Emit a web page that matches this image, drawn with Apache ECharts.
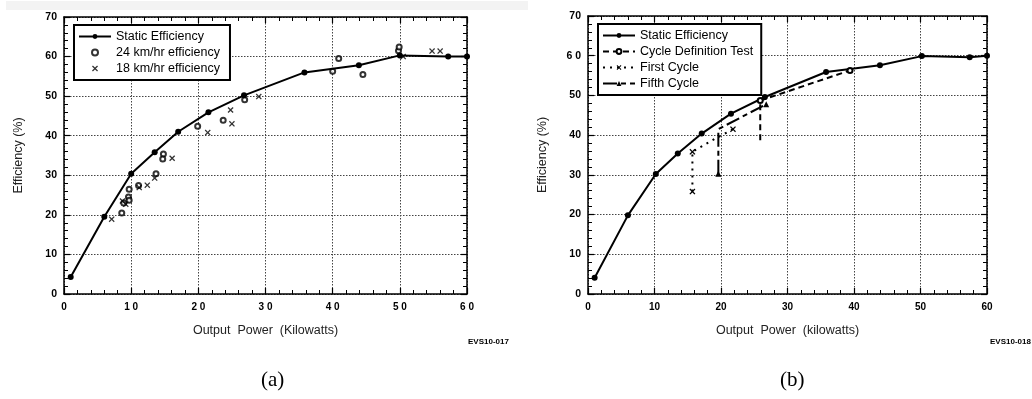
<!DOCTYPE html>
<html><head><meta charset="utf-8">
<script src="https://cdn.jsdelivr.net/npm/echarts@6/dist/echarts.min.js"></script>
<style>html,body{margin:0;padding:0;background:#fff}#c{width:1032px;height:399px}</style>
</head><body><div id="c"></div>
<script>
// ---- data: panel (a) ----
const aStatic = [[1,4.3],[6,19.5],[10,30.4],[13.5,35.8],[17,41],[21.5,45.9],[26.8,50.2],[35.8,56],[43.9,57.8],[50,60.3],[57.2,60],[60,60]];
const a24 = [[8.6,20.5],[8.9,23],[9.6,24.5],[9.7,23.7],[9.7,26.5],[11.1,27.4],[13.7,30.4],[14.8,35.4],[14.7,34.1],[19.9,42.4],[23.7,43.9],[26.9,49.1],[40,56.3],[40.9,59.5],[44.5,55.5],[49.8,61.5],[49.9,62.4]];
const a18 = [[7.1,18.9],[8.7,23.5],[9.2,22.7],[11.2,26.9],[12.4,27.5],[13.5,29.3],[16.1,34.3],[21.4,40.8],[24.8,46.5],[25,43],[29,49.9],[50.5,60],[54.8,61.4],[56,61.4]];
// ---- data: panel (b) ----
const bStatic = [[1,4.1],[6,19.8],[10.2,30.2],[13.5,35.4],[17.1,40.4],[21.5,45.4],[26.6,49.6],[35.8,55.9],[43.9,57.6],[50.2,59.9],[57.4,59.6],[60,60]];
const bCycleDef = [[25.9,38.7],[25.9,48.7],[39.4,56.3]];
const bFirst = [[15.7,25.8],[15.7,35.8],[19,39],[21.8,41.5]];
const bFifth = [[19.6,30.3],[19.6,41.5],[20.5,42.3],[26.8,47.8]];
// ---- labels ----
const aXLabels = ['0','1 0','2 0','3 0','4 0','5 0','6 0'];
const bXLabels = ['0','10','20','30','40','50','60'];
const aYLabels = ['0','10','20','30','40','50','60','70'];
const bYLabels = ['0','10','20','30','40','50','6 0','70'];
const namesA = ['Static Efficiency','24 km/hr efficiency','18 km/hr efficiency'];
const namesB = ['Static Efficiency','Cycle Definition Test','First Cycle','Fifth Cycle'];

const XSYM = 'path://M0,1.5 L1.5,0 L5,3.5 L8.5,0 L10,1.5 L6.5,5 L10,8.5 L8.5,10 L5,6.5 L1.5,10 L0,8.5 L3.5,5 Z';
const FONT = 'Liberation Sans, Arial, sans-serif';

function xAxes(grid, labels, title){
  return [{
    type:'value', gridIndex:grid, min:0, max:60, interval:10, position:'bottom',
    axisLine:{show:true,onZero:false,lineStyle:{color:'#000',width:1.5}},
    axisTick:{show:true,inside:true,length:6,lineStyle:{color:'#000',width:1.2}},
    minorTick:{show:true,splitNumber:5,length:4,lineStyle:{color:'#000',width:1}},
    splitLine:{show:true,lineStyle:{color:'#444',type:[1.5,1.5],width:1}},
    axisLabel:{color:'#000',fontFamily:FONT,fontSize:10,fontWeight:'bold',margin:8,formatter:v=>labels[Math.round(v/10)]},
    name:title, nameLocation:'middle', nameGap:30,
    nameTextStyle:{color:'#222',fontFamily:FONT,fontSize:12.5}
  },{
    type:'value', gridIndex:grid, min:0, max:60, interval:10, position:'top',
    axisLine:{show:true,onZero:false,lineStyle:{color:'#000',width:1.5}},
    axisTick:{show:true,inside:true,length:6,lineStyle:{color:'#000',width:1.2}},
    minorTick:{show:true,splitNumber:5,length:4,lineStyle:{color:'#000',width:1}},
    splitLine:{show:false}, axisLabel:{show:false}
  }];
}
function yAxes(grid, labels){
  return [{
    type:'value', gridIndex:grid, min:0, max:70, interval:10, position:'left',
    axisLine:{show:true,onZero:false,lineStyle:{color:'#000',width:1.5}},
    axisTick:{show:true,inside:true,length:6,lineStyle:{color:'#000',width:1.2}},
    minorTick:{show:true,splitNumber:5,length:4,lineStyle:{color:'#000',width:1}},
    splitLine:{show:true,lineStyle:{color:'#444',type:[1.5,1.5],width:1}},
    axisLabel:{color:'#000',fontFamily:FONT,fontSize:10.5,fontWeight:'bold',margin:7,formatter:v=>labels[Math.round(v/10)]},
    name:'Efficiency (%)', nameLocation:'middle', nameGap:39, nameRotate:90,
    nameTextStyle:{color:'#222',fontFamily:FONT,fontSize:12.5}
  },{
    type:'value', gridIndex:grid, min:0, max:70, interval:10, position:'right',
    axisLine:{show:true,onZero:false,lineStyle:{color:'#000',width:1.5}},
    axisTick:{show:true,inside:true,length:6,lineStyle:{color:'#000',width:1.2}},
    minorTick:{show:true,splitNumber:5,length:4,lineStyle:{color:'#000',width:1}},
    splitLine:{show:false}, axisLabel:{show:false}
  }];
}
function marked(arr, idxs){
  return arr.map((p,i)=> idxs.includes(i) ? {value:p} : {value:p, symbol:'none'});
}
const legendBase = {
  orient:'vertical', backgroundColor:'#fff', borderColor:'#000', borderWidth:2,
  itemWidth:32, itemHeight:6, itemGap:3, align:'left',
  textStyle:{color:'#000',fontFamily:FONT,fontSize:12.5,lineHeight:12}
};

const option = {
  animation:false, backgroundColor:'#fff',
  grid:[{left:64,top:17,width:403,height:277},{left:588,top:16,width:399,height:278}],
  xAxis:[...xAxes(0,aXLabels,'Output  Power  (Kilowatts)'), ...xAxes(1,bXLabels,'Output  Power  (kilowatts)')],
  yAxis:[...yAxes(0,aYLabels), ...yAxes(1,bYLabels)],
  legend:[
    Object.assign({}, legendBase, {data:namesA, left:74, top:25, padding:[5,10,5,4]}),
    Object.assign({}, legendBase, {data:namesB, left:598, top:24, padding:[5,8,5,4]})
  ],
  series:[
    {name:namesA[0], type:'line', xAxisIndex:0, yAxisIndex:0, data:aStatic, symbol:'circle', symbolSize:6,
     lineStyle:{color:'#000',width:2}, itemStyle:{color:'#000'}, z:3},
    {name:namesA[1], type:'scatter', xAxisIndex:0, yAxisIndex:0, data:a24, symbol:'emptyCircle', symbolSize:5,
     itemStyle:{color:'#000',borderWidth:1.2}},
    {name:namesA[2], type:'scatter', xAxisIndex:0, yAxisIndex:0, data:a18, symbol:XSYM, symbolSize:6,
     itemStyle:{color:'#000'}},
    {name:namesB[0], type:'line', xAxisIndex:2, yAxisIndex:2, data:bStatic, symbol:'circle', symbolSize:6,
     lineStyle:{color:'#000',width:2}, itemStyle:{color:'#000'}, z:3},
    {name:namesB[1], type:'line', xAxisIndex:2, yAxisIndex:2, data:marked(bCycleDef,[1,2]), symbol:'emptyCircle', symbolSize:5,
     lineStyle:{color:'#000',width:2,type:[6,4]}, itemStyle:{color:'#000',borderWidth:1.2}},
    {name:namesB[2], type:'line', xAxisIndex:2, yAxisIndex:2, data:marked(bFirst,[0,1,3]), symbol:XSYM, symbolSize:6,
     lineStyle:{color:'#000',width:2,type:[2,5]}, itemStyle:{color:'#000'}},
    {name:namesB[3], type:'line', xAxisIndex:2, yAxisIndex:2, data:marked(bFifth,[0,3]), symbol:'triangle', symbolSize:6,
     lineStyle:{color:'#000',width:2,type:[14,4,5,4]}, itemStyle:{color:'#000'}}
  ],
  graphic:[
    {type:'rect', left:6, top:1, shape:{width:522,height:9}, style:{fill:'#f3f3f3'}, silent:true, z:-1},
    {type:'text', left:468, top:338, style:{text:'EVS10-017', fill:'#000', font:'bold 8px '+FONT}},
    {type:'text', left:990, top:338, style:{text:'EVS10-018', fill:'#000', font:'bold 8px '+FONT}},
    {type:'text', left:261, top:370, style:{text:'(a)', fill:'#000', font:'21px Liberation Serif, Times New Roman, serif'}},
    {type:'text', left:780, top:370, style:{text:'(b)', fill:'#000', font:'21px Liberation Serif, Times New Roman, serif'}}
  ]
};
const chart = echarts.init(document.getElementById('c'), null, {renderer:'canvas'});
chart.setOption(option);
</script></body></html>
